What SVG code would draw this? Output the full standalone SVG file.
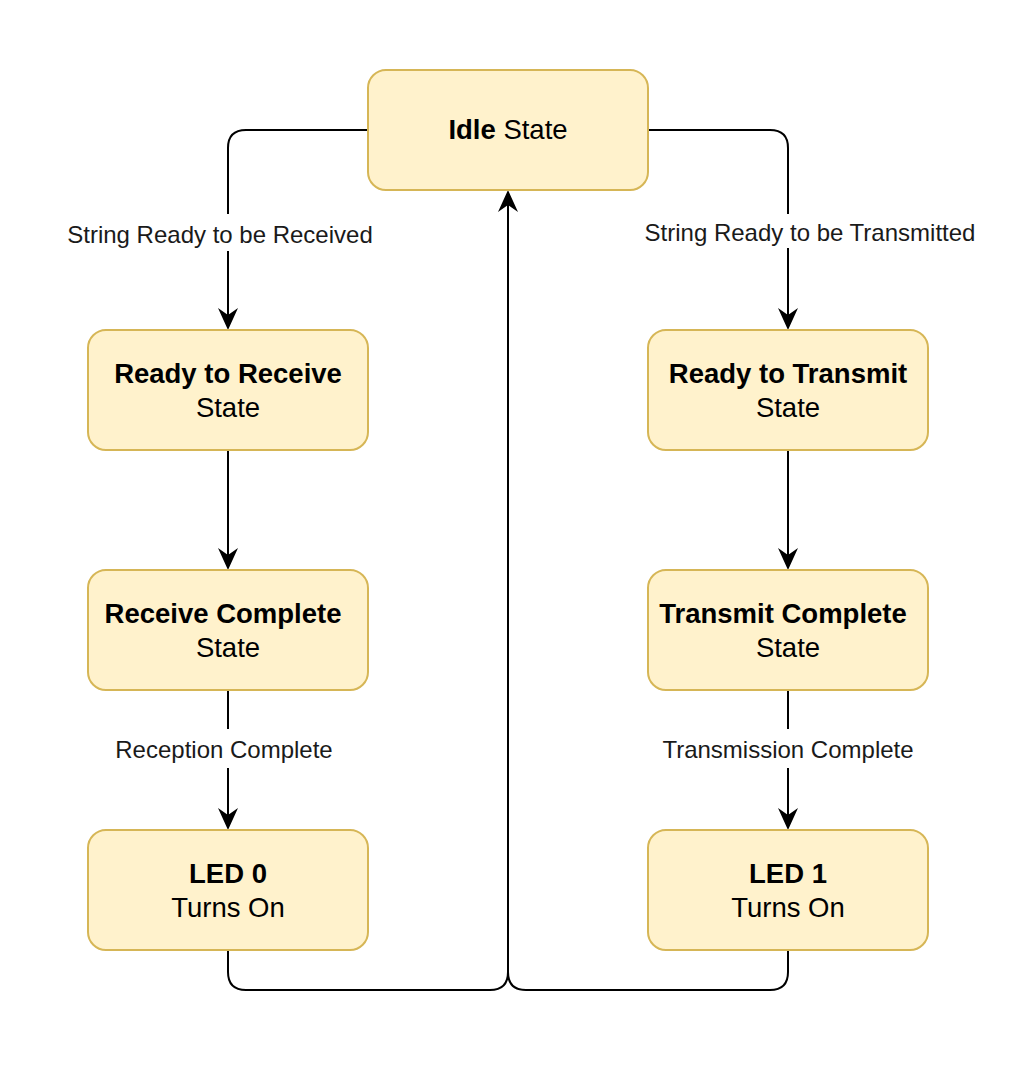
<svg xmlns="http://www.w3.org/2000/svg" width="1026" height="1091" viewBox="0 0 1026 1091">
<style>
.box{fill:#fff2cc;stroke:#d6b656;stroke-width:2}
.nt{font-family:"Liberation Sans",Arial,sans-serif;font-size:27.5px;fill:#000;text-anchor:middle}
.b{font-weight:bold}
.edge{fill:none;stroke:#000;stroke-width:2}
.lbg{fill:#fff}
.lt{font-family:"Liberation Sans",Arial,sans-serif;font-size:24px;fill:#1a1a1a;text-anchor:middle}
</style>
<rect width="1026" height="1091" fill="#fff"/>
<g id="connectors">
<path class="edge" d="M368,130 H246 Q228,130 228,148 V328"/>
<path class="edge" d="M228,450 V568"/>
<path class="edge" d="M228,690 V828"/>
<path class="edge" d="M648,130 H770 Q788,130 788,148 V328"/>
<path class="edge" d="M788,450 V568"/>
<path class="edge" d="M788,690 V828"/>
<path class="edge" d="M228,950 V972 Q228,990 246,990 H490 Q508,990 508,972 V192"/>
<path class="edge" d="M788,950 V972 Q788,990 770,990 H526 Q508,990 508,972"/>
<g fill="#000">
<path d="M228,330 L218,308 L228,315 L238,308 Z"/>
<path d="M228,570 L218,548 L228,555 L238,548 Z"/>
<path d="M228,830 L218,808 L228,815 L238,808 Z"/>
<path d="M788,330 L778,308 L788,315 L798,308 Z"/>
<path d="M788,570 L778,548 L788,555 L798,548 Z"/>
<path d="M788,830 L778,808 L788,815 L798,808 Z"/>
<path d="M508,190 L498,212 L508,205 L518,212 Z"/>
</g>
<rect class="lbg" x="64" y="214" width="312" height="37"/>
<text class="lt" x="220" y="243">String Ready to be Received</text>
<rect class="lbg" x="641" y="214" width="338" height="34"/>
<text class="lt" x="810" y="241">String Ready to be Transmitted</text>
<rect class="lbg" x="112" y="729" width="224" height="39"/>
<text class="lt" x="224" y="758">Reception Complete</text>
<rect class="lbg" x="659" y="729" width="258" height="39"/>
<text class="lt" x="788" y="758">Transmission Complete</text>
</g>
<g id="idle">
<rect class="box" x="368" y="70" width="280" height="120" rx="18"/>
<text class="nt" x="508" y="139"><tspan class="b">Idle</tspan> State</text>
</g>
<g id="ready-receive">
<rect class="box" x="88" y="330" width="280" height="120" rx="18"/>
<text class="nt b" x="228" y="383">Ready to Receive</text>
<text class="nt" x="228" y="417">State</text>
</g>
<g id="receive-complete">
<rect class="box" x="88" y="570" width="280" height="120" rx="18"/>
<text class="nt b" x="223" y="623">Receive Complete</text>
<text class="nt" x="228" y="657">State</text>
</g>
<g id="led0">
<rect class="box" x="88" y="830" width="280" height="120" rx="18"/>
<text class="nt b" x="228" y="883">LED 0</text>
<text class="nt" x="228" y="917">Turns On</text>
</g>
<g id="ready-transmit">
<rect class="box" x="648" y="330" width="280" height="120" rx="18"/>
<text class="nt b" x="788" y="383">Ready to Transmit</text>
<text class="nt" x="788" y="417">State</text>
</g>
<g id="transmit-complete">
<rect class="box" x="648" y="570" width="280" height="120" rx="18"/>
<text class="nt b" x="783" y="623">Transmit Complete</text>
<text class="nt" x="788" y="657">State</text>
</g>
<g id="led1">
<rect class="box" x="648" y="830" width="280" height="120" rx="18"/>
<text class="nt b" x="788" y="883">LED 1</text>
<text class="nt" x="788" y="917">Turns On</text>
</g>
</svg>
